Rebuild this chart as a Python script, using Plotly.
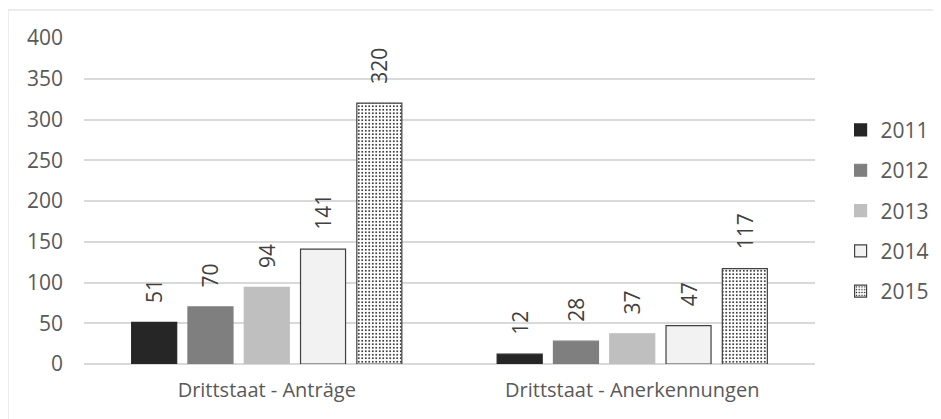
import plotly.graph_objects as go

categories = ["Drittstaat - Anträge", "Drittstaat - Anerkennungen"]
years = ["2011", "2012", "2013", "2014", "2015"]
values = {
    "2011": [51, 12],
    "2012": [70, 28],
    "2013": [94, 37],
    "2014": [141, 47],
    "2015": [320, 117],
}

fills = {"2011": "#262626", "2012": "#7f7f7f", "2013": "#bfbfbf", "2014": "#f2f2f2", "2015": "#ffffff"}
lines = {"2011": "#262626", "2012": "#7f7f7f", "2013": "#bfbfbf", "2014": "#404040", "2015": "#404040"}

fig = go.Figure()
for y in years:
    marker = dict(color=fills[y], line=dict(color=lines[y], width=1.2))
    if y == "2015":
        marker["pattern"] = dict(shape=".", fgcolor="#000000", bgcolor="#ffffff",
                                 size=3.5, solidity=0.2, fillmode="replace")
    fig.add_trace(go.Bar(
        x=categories, y=values[y], name=y, marker=marker,
        text=values[y], texttemplate="   %{text}", textposition="outside", textangle=-90,
        textfont=dict(size=21, color="#404040"), cliponaxis=False,
        legendgroup=y,
    ))

# page body adds 8px offset, margins compensate
fig.update_layout(
    width=941, height=419,
    barmode="group", bargap=0.23, bargroupgap=0.2,
    uniformtext=dict(minsize=21, mode="show"),
    font=dict(family="Open Sans", size=21, color="#595959"),
    paper_bgcolor="white", plot_bgcolor="white",
    margin=dict(l=76, r=134, t=30, b=63),
    legend=dict(x=1.035, y=0.47, yanchor="middle", xanchor="left",
                font=dict(size=21, color="#595959"), tracegroupgap=10,
                itemwidth=30),
    shapes=[dict(type="rect", xref="paper", yref="paper", x0=-0.104, x1=1.171, y0=-0.3, y1=1.086,
                 line=dict(color="#d9d9d9", width=1))],
)
fig.update_yaxes(range=[0, 400], dtick=50, gridcolor="#d9d9d9", gridwidth=1.5,
                 zeroline=True, zerolinecolor="#d9d9d9", zerolinewidth=1.5,
                 ticks="", ticklabelstandoff=20, tickfont=dict(size=21, color="#595959"))
fig.update_xaxes(showline=False, ticks="", ticklabelstandoff=12,
                 tickfont=dict(size=20, color="#595959"))

fig.write_html("out.html")
